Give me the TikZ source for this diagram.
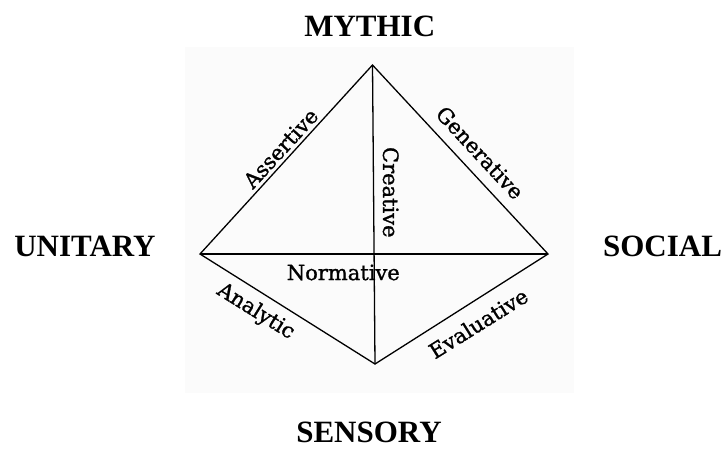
\documentclass[tikz,border=0pt]{standalone}
\usepackage{fontspec}
\setmainfont{Liberation Serif}
\newfontfamily\lblfont[FakeBold=1.2]{DejaVu Serif}
\begin{document}
\begin{tikzpicture}[x=1pt,y=-1pt,
  vlabel/.style={font=\bfseries\fontsize{31}{31}\selectfont, anchor=base, inner sep=0pt},
  elabel/.style={font=\lblfont\fontsize{21}{21}\selectfont, inner sep=0pt},
  edge/.style={line width=1.3pt, line join=miter}]
\useasboundingbox (0,0) rectangle (725,448);
\fill[black!1.5] (185,47) rectangle (574,393);
\coordinate (T) at (372.5,65);
\coordinate (L) at (200,254);
\coordinate (R) at (548,254);
\coordinate (B) at (375,364);
\draw[edge] (L) -- (T) -- (R) -- (B) -- cycle;
\draw[edge] (L) -- (R);
\draw[edge] (T) -- (B);
\node[vlabel] (mythic) at (369.7,36) {MYTHIC};
\node[vlabel] (unitary) at (85,256.7) {UNITARY};
\node[vlabel] (social) at (662.5,256.7) {SOCIAL};
\node[vlabel] (sensory) at (369,442.5) {SENSORY};
\node[elabel, rotate=47.5] (assertive) at (280.7,148.3) {Assertive};
\node[elabel, rotate=-47.2] (generative) at (480,152.7) {Generative};
\node[elabel, rotate=-90] (creative) at (390.7,192.3) {Creative};
\node[elabel] (normative) at (343.3,272.5) {Normative};
\node[elabel, rotate=-32] (analytic) at (255.7,311.7) {Analytic};
\node[elabel, rotate=32] (evaluative) at (478.3,323.3) {Evaluative};
\end{tikzpicture}
\end{document}
